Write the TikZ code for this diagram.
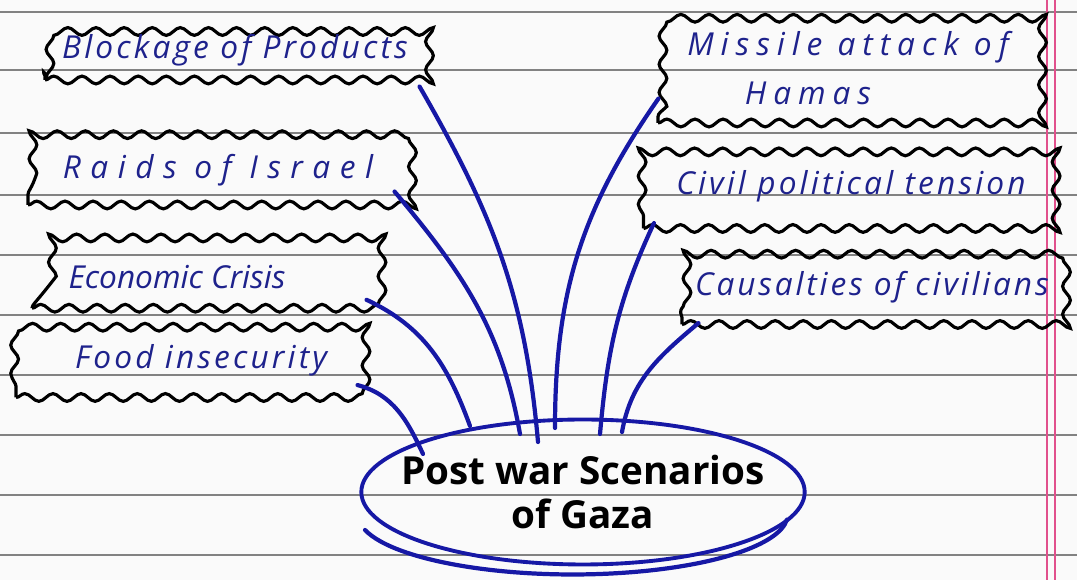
\documentclass[tikz,border=0pt]{standalone}
\usepackage{fontspec}
\setmainfont{Open Sans}
\usetikzlibrary{shapes.geometric,decorations.pathmorphing}

\definecolor{pen}{RGB}{30,34,140}
\definecolor{ink}{RGB}{22,24,165}
\definecolor{rule}{RGB}{130,130,130}
\definecolor{margin}{RGB}{225,80,140}

\tikzset{
    track/.style={font=\fontsize{18}{28}\selectfont\itshape\addfontfeatures{LetterSpace=#1}},
    track/.default=10,
    bubble/.style={
        draw=black, line width=1.8pt, inner sep=0pt,
        decorate, decoration={snake, amplitude=2.2pt, segment length=16pt},
        text=pen, track, align=center
    },
    hub/.style={
        ellipse, draw=ink, line width=2.2pt, inner xsep=-0.5cm, inner ysep=0pt,
        text=black, font=\fontsize{22}{25}\selectfont\bfseries, align=center
    },
    twig/.style={draw=ink, line width=2.4pt, line cap=round}
}

\begin{document}
\begin{tikzpicture}[x=0.02cm, y=0.02cm]
    \useasboundingbox (0,0) rectangle (1077,580);
    %paper
    \fill[gray!4] (0,0) rectangle (1077,580);
    \foreach \y in {568,510,447,385,325,265,205,145,85,25}
        \draw[rule, line width=0.7pt] (0,\y) -- (1077,\y);
    \draw[margin, line width=0.6pt] (1047,0) -- (1047,580);
    \draw[margin, line width=0.6pt] (1055,0) -- (1055,580);
    %left
    \node[bubble, minimum width=7.6cm, minimum height=1.2cm] (block) at (235,530) {Blockage of Products};
    \node[bubble, track=30, minimum width=7.6cm, minimum height=1.4cm] (raids) at (218,410) {Raids of Israel};
    \node[bubble, track=0, minimum width=6.8cm, minimum height=1.25cm] (crisis) at (202,303) {Economic Crisis\hspace*{1cm}};
    \node[bubble, minimum width=6.8cm, minimum height=1.5cm] (food) at (186,220) {\hspace*{0.6cm}Food insecurity};
    %right
    \node[bubble, track=22, minimum width=7.6cm, minimum height=2.2cm] (missile) at (848,512) {Missile attack of\\Hamas\hspace*{1.6cm}};
    \node[bubble, track=10, minimum width=8.3cm, minimum height=1.7cm] (civil) at (851,394) {Civil political tension};
    \node[bubble, track=9, minimum width=7.6cm, minimum height=1.5cm] (losses) at (872,293) {Causalties of civilians};
    %gaza
    \node[hub, minimum height=2.9cm] (gaza) at (583,88) {Post war Scenarios\\of Gaza};
    \draw[twig] ([shift={(-218,-38)}]gaza.center) arc[start angle=195, end angle=355, x radius=215, y radius=60];
    %links
    \draw[twig] ([shift={(-7,-5)}]block.south east) to[out=-60, in=95] ([shift={(-45,50)}]gaza.center);
    \draw[twig] ([shift={(-15,15)}]raids.south east) to[out=-50, in=100] ([shift={(-63,58)}]gaza.center);
    \draw[twig] ([shift={(-7,10)}]crisis.south east) to[out=-25, in=110] ([shift={(-113,66)}]gaza.center);
    \draw[twig] ([shift={(0,14)}]food.south east) to[out=-15, in=115] ([shift={(-160,38)}]gaza.center);
    \draw[twig] ([shift={(2,26)}]missile.south west) to[out=-125, in=90] ([shift={(-28,64)}]gaza.center);
    \draw[twig] ([shift={(12,7)}]civil.south west) to[out=-115, in=85] ([shift={(17,58)}]gaza.center);
    \draw[twig] ([shift={(18,3)}]losses.south west) to[out=-140, in=80] ([shift={(39,60)}]gaza.center);
\end{tikzpicture}
\end{document}
